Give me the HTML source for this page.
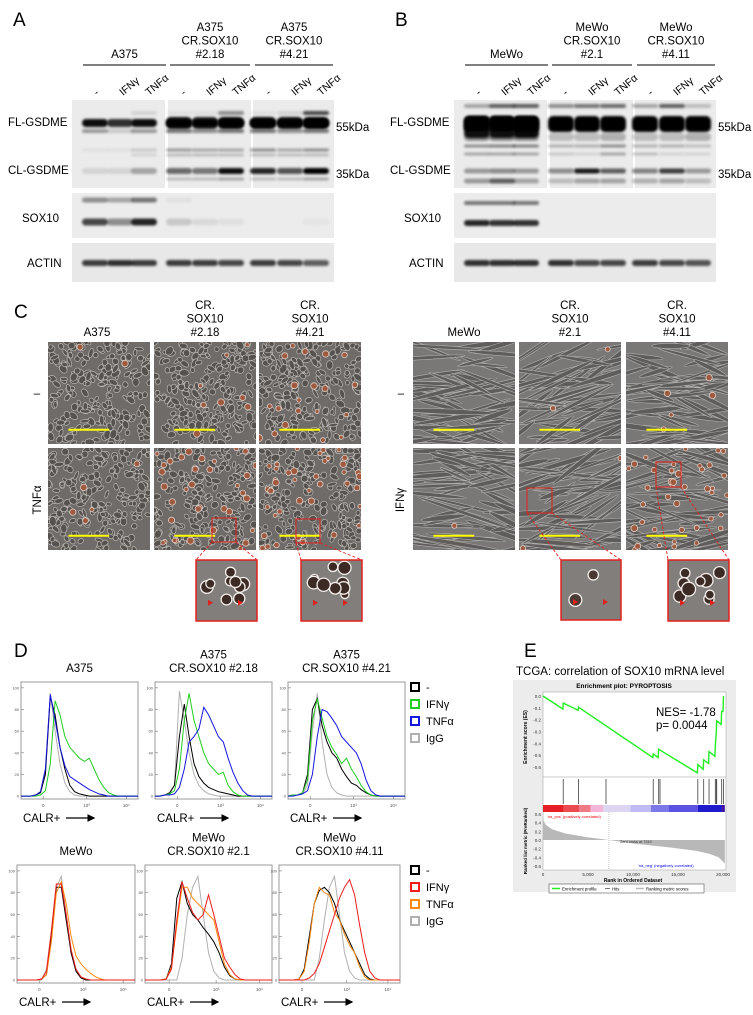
<!DOCTYPE html>
<html><head><meta charset="utf-8">
<style>
html,body{margin:0;padding:0;background:#fff;}
svg{display:block;font-family:"Liberation Sans",Arial,sans-serif;}
</style></head>
<body>
<svg id="fig" width="753" height="1015" viewBox="0 0 753 1015" xmlns="http://www.w3.org/2000/svg">
<defs>
<filter id="blur" x="-20%" y="-100%" width="140%" height="300%"><feGaussianBlur stdDeviation="1.4"/></filter>
<marker id="arr" markerWidth="6" markerHeight="6" refX="5" refY="3" orient="auto"><path d="M0,0 L6,3 L0,6 z" fill="#000"/></marker>
</defs>
<g id="panelA"></g>
<g id="panelB"></g>
<g id="panelC"></g>
<g id="panelD"></g>
<g id="panelE"></g>
</svg>
<script>
// ---------- Panel D data (histogram counts per channel bin) ----------
const histBins = [0,1,2,3,4,5,6,7,8,9,10,11,12,13,14,15,16,17,18,19,20,21,22,23,24];
const yTicks = [0,20,40,60,80,100];
const xTickLabels = ["0","10³","10⁴"];
const a375_igg  = [0,0,0,1,3,22,95,60,30,12,4,1,0];
const a375_ctrl = [0,0,0,1,3,20,92,75,45,25,10,4,2,1,0];
const a375_ifn  = [0,0,0,0,1,5,30,88,75,55,45,40,35,32,35,25,15,8,3,1,0];
const a375_tnf  = [0,0,0,1,4,25,94,70,45,28,18,15,12,9,6,4,2,1,0];
const c218_igg  = [0,0,1,2,10,97,70,40,20,10,5,2,1,0];
const c218_ctrl = [0,0,1,3,10,55,85,55,30,18,12,8,6,4,3,2,1,0];
const c218_ifn  = [0,0,1,2,5,25,70,95,70,55,40,30,25,20,22,10,4,1,0];
const c218_tnf  = [0,0,1,1,2,8,25,50,55,62,82,75,65,55,50,35,22,12,5,1,0];
const c421_igg  = [0,1,1,2,10,60,95,50,20,8,3,1,0];
const c421_ctrl = [0,1,1,3,20,80,90,65,50,40,35,25,18,12,10,6,3,1,0];
const c421_ifn  = [0,1,1,3,15,70,90,72,55,45,38,30,35,25,18,10,4,1,0];
const c421_tnf  = [0,0,1,2,5,20,55,80,78,72,65,55,50,45,40,30,15,5,1,0];
const mewo_igg  = [0,0,0,0,0,0,10,45,85,95,60,25,8,2,0];
const mewo_ctrl = [0,0,0,0,0,1,5,40,85,85,55,25,8,2,0];
const mewo_ifn  = [0,0,0,0,0,1,8,45,88,88,60,28,10,3,1,0];
const mewo_tnf  = [0,0,0,0,0,1,5,35,80,90,70,40,22,15,10,6,3,1,0];
const m21_igg   = [0,0,0,0,0,0,0,20,60,85,95,60,25,8,2,0];
const m21_ctrl  = [0,0,0,0,1,15,75,90,70,60,55,48,42,35,25,12,4,1,0];
const m21_ifn   = [0,0,0,0,1,10,55,90,75,62,55,60,78,60,40,20,12,5,1,0];
const m21_tnf   = [0,0,0,0,1,12,50,85,85,75,70,65,60,55,35,15,5,1,0];
const m411_igg  = [0,0,0,0,0,0,0,0,20,55,85,95,60,25,8,2,0];
const m411_ctrl = [0,0,0,0,1,10,40,70,82,85,80,70,55,45,35,25,15,5,1,0];
const m411_tnf  = [0,0,0,0,1,8,35,70,85,80,78,62,55,42,32,25,12,3,0];
const m411_ifn  = [0,0,0,0,0,0,2,6,15,30,45,60,75,85,92,78,50,25,8,2,0];

// ---------- Panel E data ----------
const gseaRank = [0,2200,2250,3900,3950,12200,12250,12800,12850,17150,17200,17800,17850,18400,18450,19100,19150,19250,19300,19800,19850,20000,20050];
const gseaES   = [0,-0.11,-0.06,-0.12,-0.095,-0.52,-0.49,-0.52,-0.45,-0.65,-0.58,-0.62,-0.54,-0.57,-0.47,-0.51,-0.41,-0.31,-0.21,-0.24,-0.13,-0.13,0.0];
const hitRanks = [2250,3950,7000,12250,12850,13000,17200,17850,18450,19150,19250,19300,19850,20050];
const metricRank = [0,300,1000,2500,5000,7319,10000,14000,17000,18500,19500,20000,20200];
const metricVal  = [0.48,0.35,0.25,0.15,0.06,0,-0.08,-0.17,-0.25,-0.32,-0.4,-0.5,-0.55];
const esTicks = [0,-0.1,-0.2,-0.3,-0.4,-0.5,-0.6];
const metricTicks = [0.6,0.4,0.2,0,-0.2,-0.4,-0.6];
const rankTicks = [0,5000,10000,15000,20000];
const rankTickLabels = ["0","5,000","10,000","15,000","20,000"];

const NS="http://www.w3.org/2000/svg";
function mk(parent,tag,attrs,text){const e=document.createElementNS(NS,tag);for(const k in attrs)e.setAttribute(k,attrs[k]);if(text!==undefined)e.textContent=text;parent.appendChild(e);return e;}
function txt(p,x,y,s,size,anchor,name,extra){const t=mk(p,'text',Object.assign({x:x,y:y,'font-size':size,'text-anchor':anchor||'start',fill:'#000'},extra||{}),s);


return t;}

// ---------- Panels A & B: western blots ----------
function blotPanel(g,ox,letter,groupNames,cell,bands){
  txt(g,ox+13,26,letter,19,'start','panel-letter-'+letter.toLowerCase());
  const grp=[[ox+83,ox+166],[ox+170,ox+250],[ox+255,ox+333]];
  grp.forEach((r,i)=>{
    const l=mk(g,'line',{x1:r[0],x2:r[1],y1:65,y2:65,stroke:'#000','stroke-width':1});
    
    
    const cx=(r[0]+r[1])/2;
    const lines=groupNames[i];
    lines.forEach((s,j)=>txt(g,cx,58-(lines.length-1-j)*13.5,s,11.5,'middle','group-label'));
    const lanes=['-','IFNγ','TNFα'];
    lanes.forEach((s,j)=>{const lx=r[0]+14+j*26;
      txt(g,lx,96,s,10.5,'start','lane-label',{transform:'rotate(-40 '+lx+' 96)'});});
  });
  const boxes=[[ox+72,100,ox+165,188],[ox+168,100,ox+251,188],[ox+253,100,ox+334,188]];
  boxes.forEach((b,i)=>{const r=mk(g,'rect',{x:b[0],y:b[1],width:b[2]-b[0],height:b[3]-b[1],fill:'#ebebeb'});
    
    });
  const sb=mk(g,'rect',{x:ox+72,y:193,width:262,height:45,fill:'#ececec'});
  
  
  const ab=mk(g,'rect',{x:ox+72,y:243,width:262,height:39,fill:'#e8e8e8'});
  
  
  const lanesX=[[95,120,144],[179,205,231],[263,290,316]];
  bands.forEach(bd=>{
    for(let gi=0;gi<3;gi++)for(let li=0;li<3;li++){
      const a=bd.v[gi][li]; if(a<=0)continue;
      const e=mk(g,'rect',{x:ox+lanesX[gi][li]-13,y:bd.y-bd.h/2,width:26,height:bd.h,rx:Math.min(bd.h/2,5),fill:'#000','fill-opacity':a,filter:'url(#blur)'});
      
      
    }
  });
  txt(g,ox+8,126,'FL-GSDME',11.5,'start','label-fl-gsdme');
  txt(g,ox+8,174,'CL-GSDME',11.5,'start','label-cl-gsdme');
  txt(g,ox+22,222,'SOX10',11.5,'start','label-sox10');
  txt(g,ox+27,267,'ACTIN',11.5,'start','label-actin');
  txt(g,ox+336,131,'55kDa',11.5,'start','marker-55kda');
  txt(g,ox+336,178,'35kDa',11.5,'start','marker-35kda');
}
const bandsA=[
 {n:'fl',y:123,h:8,v:[[0.95,0.8,0.95],[1,1,1],[1,1,1]]},
 {n:'fl2',y:123,h:12,v:[[0,0,0],[0.9,0.8,0.95],[0.95,0.9,1]]},
 {n:'fl-low',y:131,h:4,v:[[0.35,0.15,0.35],[0.5,0.4,0.5],[0.5,0.4,0.5]]},
 {n:'fl-top',y:113,h:4,v:[[0,0,0.1],[0.05,0.05,0.4],[0.05,0.1,0.7]]},
 {n:'mid',y:150,h:3,v:[[0.05,0.05,0.15],[0.35,0.3,0.3],[0.4,0.3,0.4]]},
 {n:'mid2',y:155,h:3,v:[[0,0,0.1],[0.2,0.2,0.2],[0.2,0.2,0.2]]},
 {n:'cl',y:171,h:6,v:[[0.1,0.1,0.3],[0.55,0.5,0.95],[0.85,0.65,1]]},
 {n:'cl-low',y:179,h:3,v:[[0,0,0],[0.2,0.2,0.3],[0.2,0.2,0.3]]},
 {n:'sox10-top',y:200,h:5,v:[[0.4,0.3,0.5],[0.05,0,0],[0,0,0]]},
 {n:'sox10',y:222,h:7,v:[[0.7,0.4,0.85],[0.15,0.08,0.05],[0,0,0.03]]},
 {n:'actin',y:263,h:6,v:[[0.75,0.8,0.75],[0.75,0.75,0.7],[0.75,0.7,0.6]]}
];
const bandsB=[
 {n:'fl',y:124,h:16,v:[[1,1,1],[1,1,1],[1,1,1]]},
 {n:'fl-extra',y:127,h:22,v:[[0.9,0.9,0.95],[0,0,0],[0,0,0]]},
 {n:'fl-smear',y:137,h:8,v:[[0.4,0.4,0.4],[0.2,0.2,0.25],[0.2,0.2,0.25]]},
 {n:'fl-top',y:106,h:4,v:[[0.3,0.6,0.6],[0.4,0.5,0.55],[0.3,0.6,0.2]]},
 {n:'mid',y:146,h:3,v:[[0.4,0.45,0.45],[0.25,0.25,0.4],[0.25,0.25,0.2]]},
 {n:'mid2',y:154,h:3,v:[[0.3,0.3,0.3],[0.15,0.1,0.3],[0.2,0.1,0.1]]},
 {n:'cl',y:171,h:5,v:[[0.35,0.4,0.35],[0.4,0.9,0.6],[0.45,0.75,0.35]]},
 {n:'cl-low',y:181,h:5,v:[[0.35,0.6,0.3],[0.2,0.3,0.3],[0.25,0.3,0.2]]},
 {n:'sox10-top',y:203,h:4,v:[[0.5,0.5,0.5],[0,0,0],[0,0,0]]},
 {n:'sox10',y:223,h:6,v:[[0.85,0.8,0.8],[0,0,0],[0,0,0]]},
 {n:'actin',y:263,h:6,v:[[0.8,0.8,0.8],[0.8,0.7,0.7],[0.75,0.7,0.65]]}
];
blotPanel(document.getElementById('panelA'),0,'A',[['A375'],['A375','CR.SOX10','#2.18'],['A375','CR.SOX10','#4.21']],'a375',bandsA);
blotPanel(document.getElementById('panelB'),382,'B',[['MeWo'],['MeWo','CR.SOX10','#2.1'],['MeWo','CR.SOX10','#4.11']],'mewo',bandsB);

// ---------- Panel C: microscopy (decorative texture) ----------
let seed=7;function rnd(){seed=(seed*1103515245+12345)%2147483648;return seed/2147483648;}
function micro(g,x,y,w,h,type,redCount,name){
  const sg=mk(g,'g',{});
  
  
  const cp='cp'+Math.round(x)+'_'+Math.round(y);
  const c=mk(document.querySelector('defs'),'clipPath',{id:cp});mk(c,'rect',{x:x,y:y,width:w,height:h});
  mk(sg,'rect',{x:x,y:y,width:w,height:h,fill:type==='a375'?'#6e6b68':'#7a7876'});
  const inner=mk(sg,'g',{'clip-path':'url(#'+cp+')'});
  if(type==='a375'){
    for(let i=0;i<220;i++){const cx=x+rnd()*w,cy=y+rnd()*h;
      mk(inner,'ellipse',{cx:cx,cy:cy,rx:2+rnd()*3,ry:1.5+rnd()*2,fill:'#55524f',stroke:'#d8d4d0','stroke-width':0.7,'stroke-opacity':0.75,transform:'rotate('+(rnd()*180)+' '+cx+' '+cy+')'});}
  } else {
    for(let i=0;i<55;i++){const cx=x+rnd()*w,cy=y+rnd()*h,L=15+rnd()*35,a=(type==='mewo2'?-40:-20)+rnd()*50;
      mk(inner,'ellipse',{cx:cx,cy:cy,rx:L,ry:1.2+rnd()*1.5,fill:'#5f5d5b',stroke:'#cfcdca','stroke-width':0.6,'stroke-opacity':0.7,transform:'rotate('+a+' '+cx+' '+cy+')'});}
  }
  for(let i=0;i<redCount;i++){const cx=x+rnd()*w,cy=y+rnd()*h;
    mk(inner,'circle',{cx:cx,cy:cy,r:2+rnd()*1.5,fill:'#a05a40',stroke:'#e8dcd6','stroke-width':0.7});}
  const sy=y+h*0.86;
  const bar=mk(sg,'line',{x1:x+w*0.2,x2:x+w*0.6,y1:sy,y2:sy,stroke:'#ffff00','stroke-width':2});
  
  
}
function inset(g,sq,box,type,name){
  const r=mk(g,'rect',{x:sq[0],y:sq[1],width:sq[2],height:sq[2],fill:'none',stroke:'#e0201c','stroke-width':1});
  
  
  mk(g,'line',{x1:sq[0],y1:sq[1]+sq[2],x2:box[0],y2:box[1],stroke:'#e0201c','stroke-width':0.9,'stroke-dasharray':'3,2'});
  mk(g,'line',{x1:sq[0]+sq[2],y1:sq[1]+sq[2],x2:box[0]+box[2],y2:box[1],stroke:'#e0201c','stroke-width':0.9,'stroke-dasharray':'3,2'});
  const ig=mk(g,'g',{});
  
  
  mk(ig,'rect',{x:box[0],y:box[1],width:box[2],height:box[2],fill:'#827e7b'});
  const n=type==='sparse'?2:9;
  for(let i=0;i<n;i++){const cx=box[0]+8+rnd()*(box[2]-16),cy=box[1]+6+rnd()*(box[2]*0.6);
    mk(ig,'circle',{cx:cx,cy:cy,r:4+rnd()*3,fill:type==='sparse'?'#4a3a35':'#3c2a24',stroke:'#f4eeea','stroke-width':1.3});}
  for(let i=0;i<2;i++){const ax=box[0]+12+i*30,ay=box[1]+box[2]*0.7;
    mk(ig,'path',{d:'M'+ax+','+(ay-3)+' L'+(ax+5)+','+ay+' L'+ax+','+(ay+3)+'z',fill:'#e0201c'});}
  mk(ig,'rect',{x:box[0],y:box[1],width:box[2],height:box[2],fill:'none',stroke:'#e0201c','stroke-width':1.5});
}
(function(){
  const g=document.getElementById('panelC');
  txt(g,14,318,'C',19,'start','panel-letter-c');
  const colA=[48,154,259],colB=[413,519,626],rows=[342,448],W=102,H=102;
  txt(g,97,336,'A375',11.5,'middle','col-label-a375');
  [['CR.','SOX10','#2.18'],['CR.','SOX10','#4.21']].forEach((l,i)=>l.forEach((s,j)=>txt(g,colA[i+1]+51,309+j*13.5,s,11.5,'middle','col-label')));
  txt(g,464,336,'MeWo',11.5,'middle','col-label-mewo');
  [['CR.','SOX10','#2.1'],['CR.','SOX10','#4.11']].forEach((l,i)=>l.forEach((s,j)=>txt(g,colB[i+1]+51,309+j*13.5,s,11.5,'middle','col-label')));
  txt(g,37,397,'–',11.5,'middle','row-label-control');
  txt(g,41,500,'TNFα',11.5,'middle','row-label-tnfa',{transform:'rotate(-90 41 500)'});
  txt(g,401,397,'–',11.5,'middle','row-label-control');
  txt(g,404,500,'IFNγ',11.5,'middle','row-label-ifng',{transform:'rotate(-90 404 500)'});
  const redA=[[2,8,20],[5,35,40]];
  for(let r=0;r<2;r++)for(let c=0;c<3;c++)micro(g,colA[c],rows[r],W,H,'a375',redA[r][c],'image-a375-'+r+'-'+c);
  const redB=[[0,2,5],[1,2,40]];
  for(let r=0;r<2;r++)for(let c=0;c<3;c++)micro(g,colB[c],rows[r],W,H,c===1?'mewo2':'mewo',redB[r][c],'image-mewo-'+r+'-'+c);
  inset(g,[212,518,24],[196,560,61],'dense','inset-a375-2-18');
  inset(g,[296,519,24],[301,560,61],'dense','inset-a375-4-21');
  inset(g,[527,488,25],[561,560,60],'sparse','inset-mewo-2-1');
  inset(g,[656,462,25],[668,560,61],'dense','inset-mewo-4-11');
})();

// ---------- Panel D: histograms ----------
function hist(g,x0,y0,w,h,title,series,name){
  const pg=mk(g,'g',{});
  
  
  title.forEach((s,j)=>txt(pg,x0+w/2,y0-10-(title.length-1-j)*13.5,s,11.5,'middle','plot-title'));
  const fr=mk(pg,'rect',{x:x0,y:y0,width:w,height:h,fill:'#fff',stroke:'#999','stroke-width':1});
  
  
  const xs=i=>x0+ i/(histBins.length-1)*w;
  const ys=v=>y0+h*0.975-(v/100)*h*0.925;
  yTicks.forEach(t=>{mk(pg,'line',{x1:x0,x2:x0+3,y1:ys(t),y2:ys(t),stroke:'#777','stroke-width':0.6});
    txt(pg,x0-2,ys(t)+1.5,String(t),4,'end','y-tick-label',{fill:'#555'});});
  [0.19,0.56,0.9].forEach((f,i)=>{mk(pg,'line',{x1:x0+f*w,x2:x0+f*w,y1:y0+h,y2:y0+h-3,stroke:'#777','stroke-width':0.6});
    txt(pg,x0+f*w,y0+h+8,xTickLabels[i],4.5,'middle','x-tick-label',{fill:'#555'});});
  series.forEach(s=>{
    let d='';histBins.forEach((b,i)=>{const v=s.v[i]||0;d+=(i?'L':'M')+xs(b).toFixed(1)+','+ys(v).toFixed(1);});
    const p=mk(pg,'path',{d:d,fill:'none',stroke:s.c,'stroke-width':1});
    
    
  });
  txt(pg,x0+2,y0+h+23,'CALR+',11.5,'start','x-axis-title');
  const ar=mk(pg,'line',{x1:x0+45,x2:x0+73,y1:y0+h+19,y2:y0+h+19,stroke:'#000','stroke-width':1.3,'marker-end':'url(#arr)'});
  
  
}
function legend(g,x,y,entries){
  entries.forEach((e,i)=>{
    const r=mk(g,'rect',{x:x,y:y+i*17,width:8,height:8,fill:'#fff',stroke:e[1],'stroke-width':2});
    
    
    txt(g,x+15,y+i*17+8,e[0],11,'start','legend-entry');
  });
}
(function(){
  const g=document.getElementById('panelD');
  txt(g,14,657,'D',19,'start','panel-letter-d');
  const K='#000',G='#22cc22',B='#1515e0',Y='#b0b0b0',R='#ee1c1c',O='#ff8a10';
  hist(g,21,682,117,117,['A375'],[{n:'igg',c:Y,v:a375_igg},{n:'ctrl',c:K,v:a375_ctrl},{n:'ifng',c:G,v:a375_ifn},{n:'tnfa',c:B,v:a375_tnf}],'hist-a375');
  hist(g,155,682,117,117,['A375','CR.SOX10 #2.18'],[{n:'igg',c:Y,v:c218_igg},{n:'ctrl',c:K,v:c218_ctrl},{n:'ifng',c:G,v:c218_ifn},{n:'tnfa',c:B,v:c218_tnf}],'hist-a375-2-18');
  hist(g,288,682,117,117,['A375','CR.SOX10 #4.21'],[{n:'igg',c:Y,v:c421_igg},{n:'ctrl',c:K,v:c421_ctrl},{n:'ifng',c:G,v:c421_ifn},{n:'tnfa',c:B,v:c421_tnf}],'hist-a375-4-21');
  legend(g,411,683,[['-',K],['IFNγ',G],['TNFα',B],['IgG',Y]]);
  hist(g,17,865,118,118,['MeWo'],[{n:'igg',c:Y,v:mewo_igg},{n:'ctrl',c:K,v:mewo_ctrl},{n:'tnfa',c:O,v:mewo_tnf},{n:'ifng',c:R,v:mewo_ifn}],'hist-mewo');
  hist(g,145,865,127,118,['MeWo','CR.SOX10 #2.1'],[{n:'igg',c:Y,v:m21_igg},{n:'ctrl',c:K,v:m21_ctrl},{n:'tnfa',c:O,v:m21_tnf},{n:'ifng',c:R,v:m21_ifn}],'hist-mewo-2-1');
  hist(g,279,865,121,118,['MeWo','CR.SOX10 #4.11'],[{n:'igg',c:Y,v:m411_igg},{n:'ctrl',c:K,v:m411_ctrl},{n:'tnfa',c:O,v:m411_tnf},{n:'ifng',c:R,v:m411_ifn}],'hist-mewo-4-11');
  legend(g,411,866,[['-',K],['IFNγ',R],['TNFα',O],['IgG',Y]]);
})();

// ---------- Panel E: GSEA ----------
(function(){
  const g=document.getElementById('panelE');
  txt(g,524,657,'E',19,'start','panel-letter-e');
  txt(g,516,675,'TCGA: correlation of SOX10 mRNA level',11.5,'start','gsea-title');
  const bg=mk(g,'rect',{x:513,y:680,width:223,height:212,fill:'#ececec'});
  
  
  txt(g,624,688,'Enrichment plot: PYROPTOSIS',6.5,'middle','gsea-plot-title',{'font-weight':'bold'});
  const X0=543,X1=723;
  const xr=r=>X0+r/20000*(X1-X0);
  const esY=v=>696-v*118.3;
  const mY=v=>840-v*43.3;
  const w=mk(g,'rect',{x:X0,y:692,width:X1-X0+3,height:178,fill:'#fff',stroke:'#999','stroke-width':0.5});
  
  
  mk(g,'line',{x1:X0,x2:X1+3,y1:777,y2:777,stroke:'#999','stroke-width':0.5});
  esTicks.forEach(t=>txt(g,X0-2,esY(t)+2,t.toFixed(1),4.5,'end','es-tick-label',{fill:'#333'}));
  txt(g,527,737,'Enrichment score (ES)',5,'middle','es-axis-title',{transform:'rotate(-90 527 737)','font-weight':'bold'});
  let d='';gseaRank.forEach((r,i)=>{d+=(i?'L':'M')+xr(r).toFixed(1)+','+esY(gseaES[i]).toFixed(1);});
  const es=mk(g,'path',{d:d,fill:'none',stroke:'#22ee22','stroke-width':1.4});
  
  
  txt(g,656,716,'NES= -1.78',11.5,'start','nes-label');
  txt(g,656,729,'p= 0.0044',11.5,'start','p-value-label');
  hitRanks.forEach(r=>{const l=mk(g,'line',{x1:xr(r),x2:xr(r),y1:779,y2:804,stroke:'#555','stroke-width':0.9});
    
    });
  const cols=['#e51f25','#ea4a50','#ee7a86','#f4b5d8','#dcd6f3','#bebbf6','#7b78e8','#5b52e2','#1e1bcc','#3b0aa0'];
  const stops=[0,2300,4000,5300,6700,9700,12000,14000,17200,19900,20200];
  cols.forEach((c,i)=>{const r=mk(g,'rect',{x:xr(stops[i]),y:805,width:xr(stops[i+1])-xr(stops[i]),height:7,fill:c});
    
    });
  let a='M'+xr(0)+','+mY(0);metricRank.forEach((r,i)=>{a+='L'+xr(r).toFixed(1)+','+mY(metricVal[i]).toFixed(1);});a+='L'+xr(20200)+','+mY(0)+'Z';
  const ar=mk(g,'path',{d:a,fill:'#b8b8b8'});
  
  
  mk(g,'line',{x1:xr(7319),x2:xr(7319),y1:812,y2:870,stroke:'#999','stroke-width':0.5,'stroke-dasharray':'1,1'});
  metricTicks.forEach(t=>txt(g,X0-2,mY(t)+2,t.toFixed(1),4.5,'end','metric-tick-label',{fill:'#333'}));
  txt(g,527,841,'Ranked list metric (PreRanked)',4.5,'middle','metric-axis-title',{transform:'rotate(-90 527 841)','font-weight':'bold'});
  txt(g,547,818,"'na_pos' (positively correlated)",4,'start','pos-label',{fill:'#e00'});
  txt(g,620,843,'Zero cross at 7319',3.8,'start','zero-cross-label',{fill:'#333'});
  txt(g,638,867,"'na_neg' (negatively correlated)",4,'start','neg-label',{fill:'#00e'});
  rankTicks.forEach((r,i)=>txt(g,xr(r),876,rankTickLabels[i],4.5,'middle','rank-tick-label',{fill:'#333'}));
  txt(g,633,882,'Rank in Ordered Dataset',5,'middle','rank-axis-title',{'font-weight':'bold'});
  const lb=mk(g,'rect',{x:549,y:884,width:155,height:9,fill:'#fff',stroke:'#555','stroke-width':0.6});
  
  
  mk(g,'line',{x1:552,x2:560,y1:888.5,y2:888.5,stroke:'#22ee22','stroke-width':1.5});
  txt(g,562,890.5,'Enrichment profile',4.3,'start','legend-enrichment');
  mk(g,'line',{x1:605,x2:610,y1:888.5,y2:888.5,stroke:'#555','stroke-width':0.8});
  txt(g,612,890.5,'Hits',4.3,'start','legend-hits');
  mk(g,'line',{x1:636,x2:644,y1:888.5,y2:888.5,stroke:'#bbb','stroke-width':1.5});
  txt(g,646,890.5,'Ranking metric scores',4.3,'start','legend-ranking');
})();
</script>
</body></html>
